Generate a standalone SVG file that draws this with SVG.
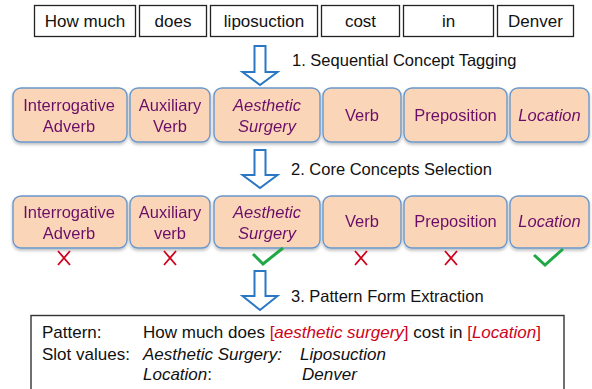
<svg xmlns="http://www.w3.org/2000/svg" width="592" height="389" viewBox="0 0 592 389">
<defs>
<style>
.word{fill:#fff;stroke:#222;stroke-width:1.3}
.wt{font-family:"Liberation Sans",Arial,sans-serif;font-size:17px;fill:#111;text-anchor:middle}
.c{fill:#FBD5B8;stroke:#6A98CC;stroke-width:1.4}
.ct{font-family:"Liberation Sans",Arial,sans-serif;font-size:16.5px;fill:#6B1068;text-anchor:middle}
.it{font-style:italic}
.arr{fill:#fff;stroke:#2A78C4;stroke-width:2;stroke-linejoin:miter}
.lab{font-family:"Liberation Sans",Arial,sans-serif;font-size:16.5px;fill:#111}
.x{stroke:#D0021B;stroke-width:1.8;fill:none}
.ok{stroke:#1FA845;stroke-width:3;fill:none}
.bt{font-family:"Liberation Sans",Arial,sans-serif;font-size:17px;fill:#111}
.red{fill:#D0021B}
</style>
<filter id="sh" x="-10%" y="-10%" width="120%" height="130%">
<feDropShadow dx="0" dy="2" stdDeviation="1.5" flood-color="#000" flood-opacity="0.25"/>
</filter>
</defs>

<g id="words">
<g id="w1"><rect class="word" x="34.5" y="5.5" width="101" height="31"/><text class="wt" x="85" y="27">How much</text></g>
<g id="w2"><rect class="word" x="139.5" y="5.5" width="67" height="31"/><text class="wt" x="173" y="27">does</text></g>
<g id="w3"><rect class="word" x="210.5" y="5.5" width="107" height="31"/><text class="wt" x="264" y="27">liposuction</text></g>
<g id="w4"><rect class="word" x="321.5" y="5.5" width="78" height="31"/><text class="wt" x="360.5" y="27">cost</text></g>
<g id="w5"><rect class="word" x="403.5" y="5.5" width="90" height="31"/><text class="wt" x="448.5" y="27">in</text></g>
<g id="w6"><rect class="word" x="497.5" y="5.5" width="76" height="31"/><text class="wt" x="535.5" y="27">Denver</text></g>
</g>

<g id="connectors">
<path class="arr" d="M254.5,46 H265.5 V72 H277.5 L260,85 L242.5,72 H254.5 Z"/>
<path class="arr" d="M254.5,150 H265.5 V175 H277.5 L260,188 L242.5,175 H254.5 Z"/>
<path class="arr" d="M254.5,271 H265.5 V296 H277.5 L260,310 L242.5,296 H254.5 Z"/>
</g>

<g id="steplabels">
<text class="lab" x="292" y="66">1. Sequential Concept Tagging</text>
<text class="lab" x="291" y="175">2. Core Concepts Selection</text>
<text class="lab" x="291" y="302">3. Pattern Form Extraction</text>
</g>

<g id="row1" filter="url(#sh)">
<g id="r1c1"><rect class="c" x="13" y="88" width="114" height="54" rx="8"/><text class="ct" x="69" y="111">Interrogative</text><text class="ct" x="69" y="132">Adverb</text></g>
<g id="r1c2"><rect class="c" x="130" y="88" width="80" height="54" rx="8"/><text class="ct" x="170" y="111">Auxiliary</text><text class="ct" x="170" y="132">Verb</text></g>
<g id="r1c3"><rect class="c" x="214" y="88" width="106" height="54" rx="8"/><text class="ct it" x="267" y="111">Aesthetic</text><text class="ct it" x="267" y="132">Surgery</text></g>
<g id="r1c4"><rect class="c" x="323" y="88" width="78" height="54" rx="8"/><text class="ct" x="362" y="121">Verb</text></g>
<g id="r1c5"><rect class="c" x="404" y="88" width="103" height="54" rx="8"/><text class="ct" x="455.5" y="121">Preposition</text></g>
<g id="r1c6"><rect class="c" x="510" y="88" width="79" height="54" rx="8"/><text class="ct it" x="549.5" y="121">Location</text></g>
</g>

<g id="row2" filter="url(#sh)">
<g id="r2c1"><rect class="c" x="13" y="196" width="114" height="52" rx="8"/><text class="ct" x="69" y="218">Interrogative</text><text class="ct" x="69" y="239">Adverb</text></g>
<g id="r2c2"><rect class="c" x="130" y="196" width="80" height="52" rx="8"/><text class="ct" x="170" y="218">Auxiliary</text><text class="ct" x="170" y="239">verb</text></g>
<g id="r2c3"><rect class="c" x="214" y="196" width="106" height="52" rx="8"/><text class="ct it" x="267" y="218">Aesthetic</text><text class="ct it" x="267" y="239">Surgery</text></g>
<g id="r2c4"><rect class="c" x="323" y="196" width="78" height="52" rx="8"/><text class="ct" x="362" y="227">Verb</text></g>
<g id="r2c5"><rect class="c" x="404" y="196" width="103" height="52" rx="8"/><text class="ct" x="455.5" y="227">Preposition</text></g>
<g id="r2c6"><rect class="c" x="510" y="196" width="79" height="52" rx="8"/><text class="ct it" x="549.5" y="227">Location</text></g>
</g>

<g id="marks">
<path class="x" d="M58,251 L70,265 M70,251 L58,265"/>
<path class="x" d="M164,251 L176,265 M176,251 L164,265"/>
<path class="x" d="M355,251 L367,265 M367,251 L355,265"/>
<path class="x" d="M445,251 L457,265 M457,251 L445,265"/>
<path class="ok" d="M253,254 L263,264 L283,248"/>
<path class="ok" d="M534,255 L545,265 L563,249"/>
</g>

<g id="result">
<rect x="31" y="315.5" width="533" height="80" fill="#fff" stroke="#333" stroke-width="1.4"/>
<text class="bt" x="42" y="338">Pattern:</text>
<text class="bt" x="143" y="338">How much does <tspan class="red">[</tspan><tspan class="red it">aesthetic surgery</tspan><tspan class="red">]</tspan> cost in <tspan class="red">[</tspan><tspan class="red it">Location</tspan><tspan class="red">]</tspan></text>
<text class="bt" x="42" y="360">Slot values:</text>
<text class="bt it" x="143" y="360">Aesthetic Surgery:</text>
<text class="bt it" x="300" y="360">Liposuction</text>
<text class="bt" x="143" y="380"><tspan class="it">Location</tspan>:</text>
<text class="bt it" x="302" y="380">Denver</text>
</g>
</svg>
